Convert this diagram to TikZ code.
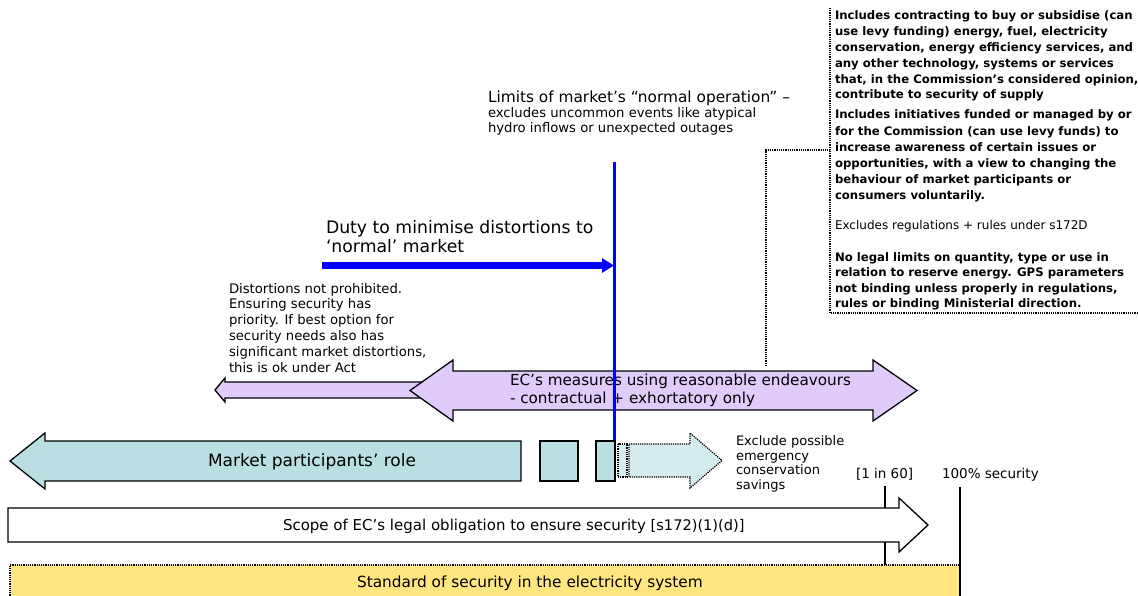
\documentclass[tikz,border=0pt]{standalone}
\usepackage{fontspec}
\setmainfont{DejaVu Sans}
\usetikzlibrary{arrows.meta}
\definecolor{lavfill}{HTML}{E0CCFA}
\definecolor{tealfill}{HTML}{B9DFE2}
\definecolor{palefill}{HTML}{D5ECEE}
\definecolor{yellowfill}{HTML}{FFE680}
\definecolor{pureblue}{HTML}{0000FF}
% text nodes are placed by the baseline of their last line
\tikzset{
  txt/.style={anchor=base west, inner sep=0pt, outer sep=0pt, align=left},
  outline/.style={draw=black, line width=1.3pt, line join=miter},
  dotline/.style={draw=black, line width=1.2pt, densely dotted},
}
\begin{document}
\begin{tikzpicture}[x=1pt,y=-1pt]
\useasboundingbox (0,0) rectangle (1138,596);

% ---- right-hand notes, dotted frame on left and bottom
\coordinate (frameTop) at (830,8);
\coordinate (frameCorner) at (830,313);
\coordinate (frameRight) at (1138,313);
\draw[dotline] (frameTop) -- (frameCorner) -- (frameRight);
\node[txt, font=\bfseries\fontsize{11.7}{15.8}\selectfont] (noteA) at (835,99)
  {Includes contracting to buy or subsidise (can\\
   use levy funding) energy, fuel, electricity\\
   conservation, energy efficiency services, and\\
   any other technology, systems or services\\
   that, in the Commission’s considered opinion,\\
   contribute to security of supply};
\node[txt, font=\bfseries\fontsize{11.7}{16.2}\selectfont] (noteB) at (835,200)
  {Includes initiatives funded or managed by or\\
   for the Commission (can use levy funds) to\\
   increase awareness of certain issues or\\
   opportunities, with a view to changing the\\
   behaviour of market participants or\\
   consumers voluntarily.};
\node[txt, font=\fontsize{12}{14}\selectfont] (noteC) at (835,230)
  {Excludes regulations + rules under s172D};
\node[txt, font=\bfseries\fontsize{11.7}{15.5}\selectfont] (noteD) at (835,307.5)
  {No legal limits on quantity, type or use in\\
   relation to reserve energy. GPS parameters\\
   not binding unless properly in regulations,\\
   rules or binding Ministerial direction.};

% ---- limit of normal operation
\node[txt, font=\fontsize{15.35}{18}\selectfont] (limits) at (488,103)
  {Limits of market’s “normal operation” –};
\node[txt, font=\fontsize{13.2}{15}\selectfont] (limitsSub) at (488,133)
  {excludes uncommon events like atypical\\
   hydro inflows or unexpected outages};

\node[txt, font=\fontsize{17.25}{20}\selectfont] (duty) at (326,253)
  {Duty to minimise distortions to\\ ‘normal’ market};

\node[txt, font=\fontsize{13.2}{15.8}\selectfont] (distort) at (229,372)
  {Distortions not prohibited.\\
   Ensuring security has\\
   priority. If best option for\\
   security needs also has\\
   significant market distortions,\\
   this is ok under Act};

% ---- small left arrow behind the EC measures arrow
\path[outline, fill=lavfill] (215,390) -- (225,378) -- (225,382) -- (470,382)
  -- (470,398) -- (225,398) -- (225,402) -- cycle;

% ---- EC measures double arrow
\path[outline, fill=lavfill] (410,390.5) -- (453,360) -- (453,371) -- (873,371)
  -- (873,360) -- (917,390.5) -- (873,421) -- (873,410) -- (453,410)
  -- (453,421) -- cycle;
\node[txt, font=\fontsize{15.2}{18}\selectfont] (ecText) at (510,403)
  {EC’s measures using reasonable endeavours\\
   - contractual + exhortatory only};

% dotted pointer from the EC arrow to the notes frame
\coordinate (ecTop) at (766,366);
\coordinate (frameJoin) at (830,150);
\draw[dotline] (ecTop) |- (frameJoin);

% ---- market participants arrow and blocks
\path[outline, fill=tealfill] (10,461) -- (45,433) -- (45,441) -- (521,441)
  -- (521,481) -- (45,481) -- (45,489) -- cycle;
\node[txt, font=\fontsize{17}{19}\selectfont] (mpText) at (208,466)
  {Market participants’ role};
\node[outline, fill=tealfill, minimum width=38pt, minimum height=40pt,
  inner sep=0pt] (blockA) at (559,461) {};

% blue limit line
\coordinate (limitTop) at (614,162);
\coordinate (limitBottom) at (614,441);
\draw[pureblue, line width=3pt] (limitTop) -- (limitBottom);

\node[outline, fill=tealfill, minimum width=19pt, minimum height=40pt,
  inner sep=0pt] (blockB) at (605.5,461) {};

% emergency conservation (dotted) arrow
\path[dotline, fill=palefill] (618,444) rectangle (627,477);
\path[dotline, fill=palefill] (629,444) -- (690,444) -- (690,433) -- (722,460.5)
  -- (690,488) -- (690,477) -- (629,477) -- cycle;
\node[txt, font=\fontsize{13}{14.5}\selectfont] (emerg) at (736,489)
  {Exclude possible\\ emergency\\ conservation\\ savings};

% blue duty arrow
\coordinate (dutyStart) at (322,265.5);
\coordinate (dutyEnd) at (614,265.5);
\draw[pureblue, line width=6.5pt, -{Triangle[length=12pt,width=14pt]}]
  (dutyStart) -- (dutyEnd);

% ---- security levels
\node[txt, font=\fontsize{13.5}{16}\selectfont] (oneIn60) at (856,478) {[1 in 60]};
\node[txt, font=\fontsize{13.5}{16}\selectfont] (fullSec) at (942,478) {100\% security};
\coordinate (lvlA) at (885,486);
\coordinate (lvlAfoot) at (885,565);
\draw[black, line width=1.5pt] (lvlA) -- (lvlAfoot);

% scope arrow
\path[outline, fill=white] (8,508) -- (899,508) -- (899,498) -- (928,525)
  -- (899,552) -- (899,542) -- (8,542) -- cycle;
\node[txt, font=\fontsize{15}{18}\selectfont] (scope) at (283,530.5)
  {Scope of EC’s legal obligation to ensure security {\fontsize{14.6}{16}\selectfont [s172)(1)(d)]}};

% standard of security band
\path[fill=yellowfill] (10,565) rectangle (960,600);
\draw[dotline] (10,600) -- (10,565) -- (960,565);
\node[txt, font=\fontsize{15.35}{18}\selectfont] (standard) at (357,587)
  {Standard of security in the electricity system};
\coordinate (lvlB) at (960,487);
\coordinate (lvlBfoot) at (960,596);
\draw[black, line width=1.5pt] (lvlB) -- (lvlBfoot);
\end{tikzpicture}
\end{document}
